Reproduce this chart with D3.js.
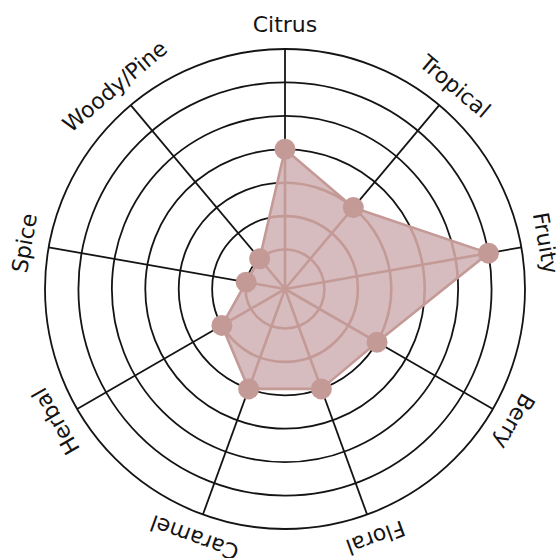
<!DOCTYPE html>
<html>
<head>
<meta charset="utf-8">
<script src="https://cdn.jsdelivr.net/npm/d3@7"></script>
<style>
  html, body { margin: 0; padding: 0; background: #ffffff; }
  svg { display: block; }
</style>
</head>
<body>
<svg id="chart" width="556" height="558"></svg>
<script>
const categories = ["Citrus", "Tropical", "Fruity", "Berry", "Floral", "Caramel", "Herbal", "Spice", "Woody/Pine"];
const values = [4, 3, 6, 3, 3, 3, 2, 1, 1];
const levels = [1, 2, 3, 4, 5, 6, 7];

const width = 556, height = 558;
const cx = 285, cy = 289;
const svg = d3.select("#chart");
const g = svg.append("g").attr("transform", `translate(${cx},${cy})`);

const r = d3.scaleLinear().domain([0, 7]).range([6, 240]);
const angle = d3.scalePoint().domain(categories).range([0, 2 * Math.PI * (categories.length - 1) / categories.length]);
const ang = c => angle(c);
const pt = (c, v) => [Math.sin(ang(c)) * r(v), -Math.cos(ang(c)) * r(v)];

const black = "#141414";
const pink = "#c49a97";
const fill = "#d6bcbe";

function drawGrid(sel, color, width) {
  sel.selectAll("circle.lvl").data(levels).join("circle")
    .attr("class", "lvl")
    .attr("r", d => r(d))
    .attr("fill", "none")
    .attr("stroke", color)
    .attr("stroke-width", width);
  sel.selectAll("line.ax").data(categories).join("line")
    .attr("class", "ax")
    .attr("x1", 0).attr("y1", 0)
    .attr("x2", d => Math.sin(ang(d)) * r(7))
    .attr("y2", d => -Math.cos(ang(d)) * r(7))
    .attr("stroke", color)
    .attr("stroke-width", width);
}

drawGrid(g.append("g"), black, 1.8);

const poly = categories.map((c, i) => pt(c, values[i]));
const line = d3.line().curve(d3.curveLinearClosed);

g.append("clipPath").attr("id", "polyclip")
  .append("path").attr("d", line(poly));

g.append("path").attr("d", line(poly)).attr("fill", fill).attr("stroke", "none");

drawGrid(g.append("g").attr("clip-path", "url(#polyclip)"), pink, 2.6);

g.append("path").attr("d", line(poly))
  .attr("fill", "none").attr("stroke", pink).attr("stroke-width", 2.6)
  .attr("stroke-linejoin", "round");

g.selectAll("circle.dot").data(categories).join("circle")
  .attr("class", "dot")
  .attr("cx", (c, i) => pt(c, values[i])[0])
  .attr("cy", (c, i) => pt(c, values[i])[1])
  .attr("r", 10.5)
  .attr("fill", pink);

g.selectAll("text.lbl").data(categories).join("text")
  .attr("class", "lbl")
  .attr("transform", d => `rotate(${ang(d) * 180 / Math.PI}) translate(0,${-257})`)
  .attr("text-anchor", "middle")
  .attr("font-family", "'DejaVu Sans', sans-serif")
  .attr("font-size", 22)
  .attr("fill", black)
  .text(d => d);
</script>
</body>
</html>
